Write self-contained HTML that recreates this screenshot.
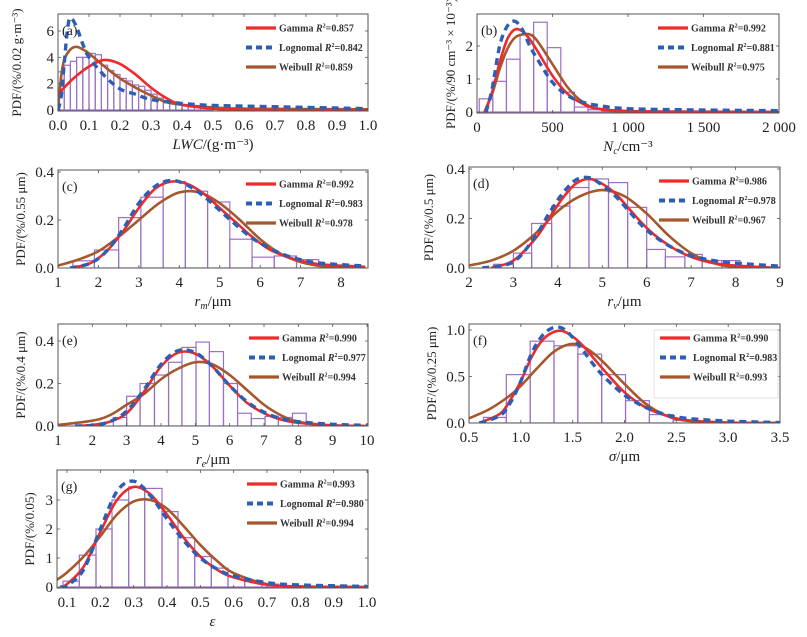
<!DOCTYPE html>
<html><head><meta charset="utf-8">
<style>
html,body{margin:0;padding:0;background:#fff;}
svg{display:block;font-family:"Liberation Serif","DejaVu Serif",serif;}
</style></head>
<body>
<svg id="fig" width="807" height="637" viewBox="0 0 807 637" xmlns="http://www.w3.org/2000/svg"></svg>
<script>
// ---------- Panel (a) LWC ----------
const aEdges=[0,0.02,0.04,0.06,0.08,0.10,0.12,0.14,0.16,0.18,0.20,0.22,0.24,0.26,0.28,0.30,0.32,0.34,0.36,0.38,0.40,0.42,0.44,0.46,0.48,0.50];
const aHeights=[2.9,3.4,3.7,4.0,4.0,4.3,4.2,3.4,3.0,2.7,2.4,2.2,1.9,1.8,1.5,1.2,0.9,0.7,0.5,0.4,0.3,0.25,0.2,0.15,0.12];
const aGammaX=[0,0.02,0.05,0.1,0.15,0.2,0.25,0.3,0.35,0.4,0.5,0.6,0.8,1.0];
const aGammaY=[1.2,1.7,2.4,3.3,3.8,3.5,2.7,1.7,0.9,0.4,0.1,0.02,0,0];
const aLogX=[0,0.01,0.02,0.03,0.04,0.06,0.08,0.1,0.15,0.2,0.25,0.3,0.4,0.5,0.7,1.0];
const aLogY=[0,1,3.5,6,7,6.3,5,4,2.6,1.6,1.2,0.8,0.5,0.35,0.25,0.1];
const aWeiX=[0,0.01,0.02,0.04,0.06,0.08,0.1,0.15,0.2,0.25,0.3,0.35,0.4,0.5,0.6,1.0];
const aWeiY=[0,2.5,3.8,4.6,4.8,4.6,4.3,3.3,2.4,1.7,1.1,0.6,0.4,0.2,0.1,0.05];
const aXTicks=[0,0.1,0.2,0.3,0.4,0.5,0.6,0.7,0.8,0.9,1.0];
const aXLabels=["0.0","0.1","0.2","0.3","0.4","0.5","0.6","0.7","0.8","0.9","1.0"];
const aYTicks=[0,2,4,6];
const aYLabels=["0","2","4","6"];
const aR2=["0.857","0.842","0.859"];
// ---------- Panel (b) Nc ----------
const bEdges=[15,105,195,285,375,465,555,645,735,825,915];
const bHeights=[0.4,0.93,1.6,2.35,2.72,1.95,0.6,0.15,0.07,0.03];
const bGammaX=[50,100,150,200,250,300,350,400,500,600,700,800,1000,1500,2000];
const bGammaY=[0,0.6,1.5,2.2,2.5,2.45,2.2,1.85,1.1,0.55,0.25,0.1,0.03,0.01,0];
const bLogX=[60,100,150,200,250,300,350,400,500,600,700,800,1000,1500,2000];
const bLogY=[0,0.7,2.0,2.6,2.75,2.5,2.0,1.6,0.9,0.5,0.3,0.2,0.1,0.06,0.04];
const bWeiX=[50,100,150,200,250,300,350,400,500,600,700,800,1000,1500,2000];
const bWeiY=[0,0.55,1.3,1.9,2.25,2.35,2.35,2.15,1.45,0.75,0.3,0.1,0.01,0,0];
const bXTicks=[0,500,1000,1500,2000];
const bXLabels=["0","500","1 000","1 500","2 000"];
const bYTicks=[0,1,2];
const bYLabels=["0","1","2"];
const bR2=["0.992","0.881","0.975"];
// ---------- Panel (c) rm ----------
const cEdges=[1.37,1.9,2.5,3.05,3.6,4.15,4.7,5.25,5.8,6.35,6.9,7.45];
const cHeights=[0.03,0.075,0.21,0.295,0.36,0.32,0.275,0.12,0.045,0.05,0.035];
const cGammaX=[1.3,1.8,2.2,2.6,3.0,3.4,3.8,4.2,4.6,5.0,5.4,5.8,6.2,6.6,7.0,7.5,8.6];
const cGammaY=[0,0.02,0.07,0.15,0.25,0.33,0.36,0.35,0.31,0.25,0.19,0.13,0.08,0.05,0.03,0.015,0.005];
const cLogX=[1.3,1.8,2.2,2.6,3.0,3.4,3.8,4.2,4.6,5.0,5.4,5.8,6.2,6.6,7.0,7.5,8.6];
const cLogY=[0,0.02,0.07,0.16,0.27,0.34,0.365,0.345,0.3,0.24,0.18,0.125,0.085,0.055,0.035,0.02,0.008];
const cWeiX=[1,1.5,2,2.5,3,3.5,4,4.5,5,5.5,6,6.5,7,7.5,8,8.6];
const cWeiY=[0.01,0.035,0.07,0.13,0.2,0.27,0.315,0.315,0.27,0.2,0.12,0.06,0.025,0.008,0.002,0];
const cXTicks=[1,2,3,4,5,6,7,8];
const cXLabels=["1","2","3","4","5","6","7","8"];
const cYTicks=[0,0.2,0.4];
const cYLabels=["0.0","0.2","0.4"];
const cR2=["0.992","0.983","0.978"];
// ---------- Panel (d) rv ----------
const dEdges=[2.55,3.0,3.41,3.86,4.27,4.7,5.14,5.57,6.0,6.42,6.86,7.25,7.69,8.1];
const dHeights=[0.015,0.06,0.18,0.25,0.325,0.36,0.345,0.245,0.075,0.045,0.055,0.03,0.03];
const dGammaX=[2.5,3,3.5,3.8,4.1,4.4,4.7,5.0,5.3,5.6,5.9,6.2,6.6,7,7.5,8,9];
const dGammaY=[0,0.03,0.12,0.2,0.28,0.34,0.36,0.34,0.3,0.24,0.18,0.13,0.08,0.045,0.02,0.01,0];
const dLogX=[2.3,3,3.5,3.8,4.1,4.4,4.7,5.0,5.3,5.6,5.9,6.2,6.6,7,7.5,8,9];
const dLogY=[0,0.025,0.13,0.22,0.3,0.355,0.365,0.335,0.29,0.23,0.17,0.125,0.08,0.05,0.03,0.02,0.007];
const dWeiX=[2,2.5,3,3.5,4,4.5,5,5.5,6,6.5,7,7.5,8,9];
const dWeiY=[0.01,0.03,0.07,0.14,0.23,0.29,0.315,0.29,0.22,0.13,0.06,0.02,0.005,0];
const dXTicks=[2,3,4,5,6,7,8,9];
const dXLabels=["2","3","4","5","6","7","8","9"];
const dYTicks=[0,0.2,0.4];
const dYLabels=["0.0","0.2","0.4"];
const dR2=["0.986","0.978","0.967"];
// ---------- Panel (e) re ----------
const eEdges=[2.61,3.0,3.39,3.81,4.22,4.61,5.02,5.41,5.82,6.23,6.63,7.03,7.42,7.83,8.23];
const eHeights=[0.04,0.14,0.2,0.24,0.3,0.37,0.395,0.35,0.2,0.06,0.035,0.045,0.04,0.06];
const eGammaX=[1.5,2,2.5,3,3.5,4,4.5,5,5.5,6,6.5,7,7.5,8,9,10];
const eGammaY=[0,0.005,0.02,0.06,0.16,0.28,0.345,0.34,0.28,0.19,0.11,0.06,0.03,0.015,0.003,0];
const eLogX=[1.5,2,2.5,3,3.5,4,4.5,5,5.5,6,6.5,7,7.5,8,9,10];
const eLogY=[0,0.003,0.02,0.07,0.17,0.29,0.355,0.345,0.28,0.19,0.115,0.065,0.035,0.02,0.008,0.003];
const eWeiX=[1,2,2.5,3,3.5,4,4.5,5,5.5,6,6.5,7,7.5,8,9,10];
const eWeiY=[0.005,0.025,0.05,0.1,0.15,0.22,0.27,0.3,0.29,0.24,0.17,0.1,0.05,0.02,0.002,0];
const eXTicks=[1,2,3,4,5,6,7,8,9,10];
const eXLabels=["1","2","3","4","5","6","7","8","9","10"];
const eYTicks=[0,0.2,0.4];
const eYLabels=["0.0","0.2","0.4"];
const eR2=["0.990","0.977","0.994"];
// ---------- Panel (f) sigma ----------
const fEdges=[0.64,0.86,1.09,1.32,1.55,1.78,2.01,2.24,2.47,2.7];
const fHeights=[0.06,0.52,0.88,0.83,0.74,0.52,0.24,0.09,0.03];
const fGammaX=[0.6,0.8,0.9,1.0,1.1,1.2,1.3,1.4,1.5,1.6,1.7,1.8,2.0,2.2,2.4,2.6,3.0,3.5];
const fGammaY=[0,0.1,0.25,0.45,0.7,0.88,0.97,0.99,0.93,0.83,0.7,0.57,0.33,0.17,0.08,0.03,0.005,0];
const fLogX=[0.6,0.8,0.9,1.0,1.1,1.2,1.3,1.4,1.5,1.6,1.7,1.8,2.0,2.2,2.4,2.6,3.0,3.5];
const fLogY=[0,0.08,0.22,0.45,0.74,0.93,1.02,1.02,0.92,0.78,0.63,0.5,0.3,0.17,0.09,0.05,0.02,0.005];
const fWeiX=[0.5,0.7,0.9,1.0,1.1,1.2,1.3,1.4,1.5,1.6,1.7,1.8,2.0,2.2,2.4,2.6,3.0,3.5];
const fWeiY=[0.05,0.15,0.3,0.4,0.52,0.64,0.75,0.82,0.85,0.82,0.75,0.65,0.42,0.21,0.08,0.025,0,0];
const fXTicks=[0.5,1.0,1.5,2.0,2.5,3.0,3.5];
const fXLabels=["0.5","1.0","1.5","2.0","2.5","3.0","3.5"];
const fYTicks=[0,0.5,1.0];
const fYLabels=["0.0","0.5","1.0"];
const fR2=["0.990","0.983","0.993"];
// ---------- Panel (g) epsilon ----------
const gEdges=[0.088,0.137,0.187,0.235,0.285,0.333,0.385,0.433,0.483,0.533,0.583,0.633,0.685,0.735];
const gHeights=[0.2,1.1,2.0,3.0,3.45,3.4,2.6,1.7,1.05,0.65,0.35,0.2,0.1];
const gGammaX=[0.08,0.1,0.15,0.2,0.25,0.3,0.35,0.4,0.45,0.5,0.55,0.6,0.7,0.8,1.0];
const gGammaY=[0,0.1,0.7,1.9,3.0,3.45,3.2,2.5,1.7,1.05,0.6,0.33,0.08,0.02,0];
const gLogX=[0.08,0.1,0.15,0.2,0.25,0.3,0.35,0.4,0.45,0.5,0.55,0.6,0.7,0.8,1.0];
const gLogY=[0,0.05,0.6,2.0,3.3,3.65,3.15,2.35,1.6,1.0,0.62,0.38,0.15,0.07,0.02];
const gWeiX=[0.07,0.1,0.15,0.2,0.25,0.3,0.35,0.4,0.45,0.5,0.55,0.6,0.7,0.8,1.0];
const gWeiY=[0.25,0.5,1.05,1.75,2.5,2.95,3.0,2.7,2.1,1.45,0.9,0.48,0.1,0.01,0];
const gXTicks=[0.1,0.2,0.3,0.4,0.5,0.6,0.7,0.8,0.9,1.0];
const gXLabels=["0.1","0.2","0.3","0.4","0.5","0.6","0.7","0.8","0.9","1.0"];
const gYTicks=[0,1,2,3];
const gYLabels=["0","1","2","3"];
const gR2=["0.993","0.980","0.994"];

const NS="http://www.w3.org/2000/svg";
const svg=document.getElementById('fig');
function mk(tag,attrs,parent){const e=document.createElementNS(NS,tag);for(const k in attrs)e.setAttribute(k,attrs[k]);(parent||svg).appendChild(e);return e;}

const panels=[
 {id:'a',L:58,R:368,T:14,B:111,x0:0,x1:1.0,y0:0,y0px:110,y1:6,y1px:31,edges:aEdges,h:aHeights,gx:aGammaX,gy:aGammaY,lx:aLogX,ly:aLogY,wx:aWeiX,wy:aWeiY,xt:aXTicks,xl:aXLabels,yt:aYTicks,yl:aYLabels,r2:aR2,ylab:'PDF/(%/0.02 g·m⁻³)',yOff:37,xlab:[['LWC','italic'],['/(g·m⁻³)','normal']],legX:246,italicR:true},
 {id:'b',L:477,R:779,T:14,B:113,x0:0,x1:2000,y0:0,y0px:112,y1:2,y1px:46,edges:bEdges,h:bHeights,gx:bGammaX,gy:bGammaY,lx:bLogX,ly:bLogY,wx:bWeiX,wy:bWeiY,xt:bXTicks,xl:bXLabels,yt:bYTicks,yl:bYLabels,r2:bR2,ylab:'PDF/(%/90 cm⁻³ × 10⁻³)',yOff:22,xlab:[['N','italic'],['c','italic',true],['/cm⁻³','normal']],legX:658,italicR:true},
 {id:'c',L:58,R:368,T:170,B:268,x0:1,x1:8,x1px:341,y0:0,y0px:268,y1:0.4,y1px:172,edges:cEdges,h:cHeights,gx:cGammaX,gy:cGammaY,lx:cLogX,ly:cLogY,wx:cWeiX,wy:cWeiY,xt:cXTicks,xl:cXLabels,yt:cYTicks,yl:cYLabels,r2:cR2,ylab:'PDF/(%/0.55 μm)',yOff:33,xlab:[['r','italic'],['m','italic',true],['/μm','normal']],legX:246,italicR:true},
 {id:'d',L:469,R:780,T:167,B:268,x0:2,x1:9,y0:0,y0px:268,y1:0.4,y1px:169,edges:dEdges,h:dHeights,gx:dGammaX,gy:dGammaY,lx:dLogX,ly:dLogY,wx:dWeiX,wy:dWeiY,xt:dXTicks,xl:dXLabels,yt:dYTicks,yl:dYLabels,r2:dR2,ylab:'PDF/(%/0.5 μm)',yOff:36,xlab:[['r','italic'],['v','italic',true],['/μm','normal']],legX:659,italicR:true},
 {id:'e',L:58,R:368,T:324,B:426,x0:1,x1:10,x1px:367,y0:0,y0px:426,y1:0.4,y1px:341,edges:eEdges,h:eHeights,gx:eGammaX,gy:eGammaY,lx:eLogX,ly:eLogY,wx:eWeiX,wy:eWeiY,xt:eXTicks,xl:eXLabels,yt:eYTicks,yl:eYLabels,r2:eR2,ylab:'PDF/(%/0.4 μm)',yOff:33,xlab:[['r','italic'],['e','italic',true],['/μm','normal']],legX:249,italicR:true},
 {id:'f',L:469,R:780,T:324,B:423,x0:0.5,x1:3.5,y0:0,y0px:423,y1:1.0,y1px:330,edges:fEdges,h:fHeights,gx:fGammaX,gy:fGammaY,lx:fLogX,ly:fLogY,wx:fWeiX,wy:fWeiY,xt:fXTicks,xl:fXLabels,yt:fYTicks,yl:fYLabels,r2:fR2,ylab:'PDF/(%/0.25 μm)',yOff:33,xlab:[['σ','italic'],['/μm','normal']],legX:660,italicR:false,legBox:true},
 {id:'g',L:57,R:368,T:470,B:588,x0:0.1,x0px:67,x1:1.0,x1px:367,y0:0,y0px:587,y1:3,y1px:500,edges:gEdges,h:gHeights,gx:gGammaX,gy:gGammaY,lx:gLogX,ly:gLogY,wx:gWeiX,wy:gWeiY,xt:gXTicks,xl:gXLabels,yt:gYTicks,yl:gYLabels,r2:gR2,ylab:'PDF/(%/0.05)',yOff:23,xlab:[['ε','italic']],legX:247,italicR:true}
];

function smoothPath(pts){
  let d='M'+pts[0][0].toFixed(2)+','+pts[0][1].toFixed(2);
  for(let i=0;i<pts.length-1;i++){
    const p0=pts[Math.max(0,i-1)],p1=pts[i],p2=pts[i+1],p3=pts[Math.min(pts.length-1,i+2)];
    const c1x=p1[0]+(p2[0]-p0[0])/6,c1y=p1[1]+(p2[1]-p0[1])/6;
    const c2x=p2[0]-(p3[0]-p1[0])/6,c2y=p2[1]-(p3[1]-p1[1])/6;
    d+=' C'+c1x.toFixed(2)+','+c1y.toFixed(2)+' '+c2x.toFixed(2)+','+c2y.toFixed(2)+' '+p2[0].toFixed(2)+','+p2[1].toFixed(2);
  }
  return d;
}

panels.forEach(p=>{
  const x0px=p.x0px!==undefined?p.x0px:p.L, x1px=p.x1px!==undefined?p.x1px:p.R;
  const X=v=>x0px+(v-p.x0)*(x1px-x0px)/(p.x1-p.x0);
  const Y=v=>p.y0px+(v-p.y0)*(p.y1px-p.y0px)/(p.y1-p.y0);
  const g=mk('g',{});
  
  
  const clip=mk('clipPath',{id:'clip-'+p.id},g);
  mk('rect',{x:p.L,y:p.T,width:p.R-p.L,height:p.B-p.T},clip);
  const bars=mk('g',{'clip-path':'url(#clip-'+p.id+')'},g);
  
  
  for(let i=0;i<p.h.length;i++){
    const xa=X(p.edges[i]),xb=X(p.edges[i+1]),yt=Y(p.h[i]),yb=Y(0);
    const r=mk('rect',{x:xa,y:yt,width:Math.max(0,xb-xa),height:Math.max(0,yb-yt),fill:'none',stroke:'#9b6fc6','stroke-width':1.2},bars);
    
    
  }
  const curves=[
    {xs:p.gx,ys:p.gy,color:'#ee2a2a',w:2.6,dash:null,name:'gamma-curve'},
    {xs:p.lx,ys:p.ly,color:'#2c5fb3',w:3.4,dash:'7,5',name:'lognormal-curve'},
    {xs:p.wx,ys:p.wy,color:'#a6582c',w:2.6,dash:null,name:'weibull-curve'}
  ];
  const cg=mk('g',{'clip-path':'url(#clip-'+p.id+')'},g);
  [curves[2],curves[0],curves[1]].forEach(c=>{
    const pts=c.xs.map((x,i)=>[X(x),Y(c.ys[i])]);
    const attrs={d:smoothPath(pts),fill:'none',stroke:c.color,'stroke-width':c.w,'stroke-linejoin':'round'};
    if(c.dash)attrs['stroke-dasharray']=c.dash;
    const path=mk('path',attrs,cg);
    
    
  });
  const fr=mk('rect',{x:p.L,y:p.T,width:p.R-p.L,height:p.B-p.T,fill:'none',stroke:'#555','stroke-width':1},g);
  
  
  p.xt.forEach((t,i)=>{
    const x=X(t);
    mk('line',{x1:x,y1:p.B,x2:x,y2:p.B-3,stroke:'#555','stroke-width':0.8},g);
    mk('line',{x1:x,y1:p.T,x2:x,y2:p.T+3,stroke:'#555','stroke-width':0.8},g);
    const tx=mk('text',{x:x,y:p.B+19,'font-size':15,'text-anchor':'middle',fill:'#222'},g);
    tx.textContent=p.xl[i];
    
    
  });
  p.yt.forEach((t,i)=>{
    const y=Y(t);
    mk('line',{x1:p.L,y1:y,x2:p.L+3,y2:y,stroke:'#555','stroke-width':0.8},g);
    mk('line',{x1:p.R,y1:y,x2:p.R-3,y2:y,stroke:'#555','stroke-width':0.8},g);
    const ty=mk('text',{x:p.L-4,y:y+5,'font-size':15,'text-anchor':'end',fill:'#222'},g);
    ty.textContent=p.yl[i];
    
    
  });
  const pl=mk('text',{x:p.L+4,y:p.T+21,'font-size':14,fill:'#222'},g);
  pl.textContent='('+p.id+')';
  
  
  const yc=(p.T+p.B)/2;
  const yt=mk('text',{x:0,y:0,'font-size':13,'text-anchor':'middle',fill:'#222',transform:'translate('+(p.L-p.yOff)+','+yc+') rotate(-90)'},g);
  yt.textContent=p.ylab;
  
  
  const xt=mk('text',{x:(p.L+p.R)/2,y:p.B+38,'font-size':15,'text-anchor':'middle',fill:'#222'},g);
  p.xlab.forEach(s=>{
    const ts=mk('tspan',{'font-style':s[1]},xt);
    if(s[2]){ts.setAttribute('font-size','10');ts.setAttribute('dy','3');}
    else if(xt.childNodes.length>1 && p.xlab[xt.childNodes.length-2][2]){ts.setAttribute('dy','-3');}
    ts.textContent=s[0];
  });
  
  
  const lg=mk('g',{},g);
  
  
  if(p.legBox){mk('rect',{x:p.legX-6,y:p.T+6,width:p.R-p.legX+4,height:68,fill:'#fff',stroke:'#ddd','stroke-width':0.8},lg);}
  const names=['Gamma','Lognomal','Weibull'];
  const lc=[curves[0],curves[1],curves[2]];
  for(let i=0;i<3;i++){
    const ly=p.T+14+i*19.5;
    const la={x1:p.legX,y1:ly,x2:p.legX+30,y2:ly,stroke:lc[i].color,'stroke-width':lc[i].w+0.6};
    if(lc[i].dash)la['stroke-dasharray']='6,4';
    mk('line',la,lg);
    const t=mk('text',{x:p.legX+33,y:ly+3.5,'font-size':10,'font-weight':'bold',fill:'#333'},lg);
    const t1=mk('tspan',{},t);t1.textContent=names[i]+' ';
    const t2=mk('tspan',{'font-style':p.italicR?'italic':'normal'},t);t2.textContent='R';
    const t3=mk('tspan',{'font-size':6,dy:-4},t);t3.textContent='2';
    const t4=mk('tspan',{dy:4},t);t4.textContent='='+p.r2[i];
    
    
  }
});
</script>
</body></html>
